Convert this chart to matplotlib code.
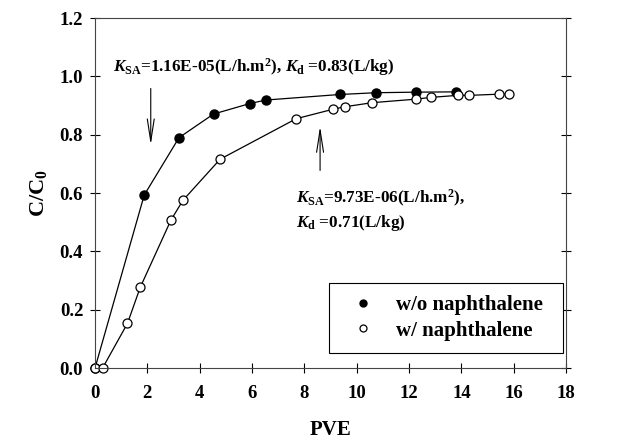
import numpy as np
import matplotlib.pyplot as plt

plt.rcParams['font.family'] = 'Liberation Serif'
plt.rcParams['font.weight'] = 'bold'
plt.rcParams['mathtext.fontset'] = 'custom'
plt.rcParams['mathtext.rm'] = 'Liberation Serif:bold'
plt.rcParams['mathtext.it'] = 'Liberation Serif:italic:bold'
plt.rcParams['mathtext.bf'] = 'Liberation Serif:bold'

# without naphthalene (filled)
pve_wo = [0, 1.88, 3.21, 4.53, 5.92, 6.53, 9.36, 10.72, 12.27, 13.8]
c_wo = [0, 0.593, 0.79, 0.871, 0.907, 0.919, 0.938, 0.944, 0.946, 0.947]

# with naphthalene (open)
pve_w = [0, 0.29, 1.24, 1.73, 2.9, 3.36, 4.78, 7.69, 9.08, 9.55, 10.6,
         12.27, 12.83, 13.86, 14.3, 15.42, 15.83]
c_w = [0, 0, 0.153, 0.277, 0.507, 0.575, 0.716, 0.855, 0.887, 0.896, 0.91,
       0.922, 0.928, 0.935, 0.935, 0.939, 0.939]

fig = plt.figure(figsize=(6.19, 4.41), dpi=100)
ax = fig.add_axes([0.1535, 0.1655, 0.761, 0.7935])

ax.plot(pve_wo, c_wo, '-o', color='black', lw=0.9, ms=6.5,
        mfc='black', mec='black', clip_on=False, label='w/o naphthalene')
ax.plot(pve_w, c_w, '-o', color='black', lw=0.9, ms=6.5,
        mfc='white', mec='black', mew=0.9, clip_on=False, label='w/ naphthalene')

ax.set_xlim(0, 18)
ax.set_ylim(0, 1.2)
ax.set_xticks(np.arange(0, 19, 2))
ax.set_yticks(np.arange(0, 1.21, 0.2))
ax.set_yticklabels([f'{v:.1f}' for v in np.arange(0, 1.21, 0.2)])
ax.tick_params(direction='inout', length=7, width=0.8, labelsize=13.5,
               right=True, top=False)
ax.tick_params(axis='x', pad=9)
ax.tick_params(axis='y', pad=5)
for s in ax.spines.values():
    s.set_linewidth(0.8)
    s.set_color('#444444')

ax.set_xlabel('PVE', fontsize=15, fontweight='bold', labelpad=13)
ax.set_ylabel(r'C/C$_{\mathrm{0}}$', fontsize=16, fontweight='bold', labelpad=8)

# annotations
ax.text(0.69, 1.015, r'$\mathit{K}_{\mathrm{SA}}$=1.16E-05(L/h.m$^{\mathrm{2}}$), $\mathit{K}_{\mathrm{d}}$ =0.83(L/kg)',
        fontsize=12.3, va='baseline', ha='left')
ax.annotate('', xy=(2.13, 0.756), xytext=(2.13, 0.968),
            arrowprops=dict(arrowstyle='->,head_length=1.6,head_width=0.25', color='black', lw=0.8))
ax.annotate('', xy=(8.6, 0.838), xytext=(8.6, 0.668),
            arrowprops=dict(arrowstyle='->,head_length=1.6,head_width=0.25', color='black', lw=0.8))
ax.text(7.69, 0.566, r'$\mathit{K}_{\mathrm{SA}}$=9.73E-06(L/h.m$^{\mathrm{2}}$),',
        fontsize=12.3, va='baseline', ha='left')
ax.text(7.69, 0.483, r'$\mathit{K}_{\mathrm{d}}$ =0.71(L/kg)',
        fontsize=12.3, va='baseline', ha='left')

leg = ax.legend(loc='upper left', bbox_to_anchor=(0.497, 0.243, 0.497, 0.0),
                mode='expand', fontsize=15,
                frameon=True, fancybox=False, edgecolor='black', framealpha=1,
                handlelength=2.07, handletextpad=0.55, borderpad=0.6,
                labelspacing=0.25, borderaxespad=0)
leg.get_frame().set_linewidth(0.8)
for h in leg.legend_handles:
    h.set_linestyle('')
    h.set_markersize(5)

fig.savefig('out.png', dpi=100)
